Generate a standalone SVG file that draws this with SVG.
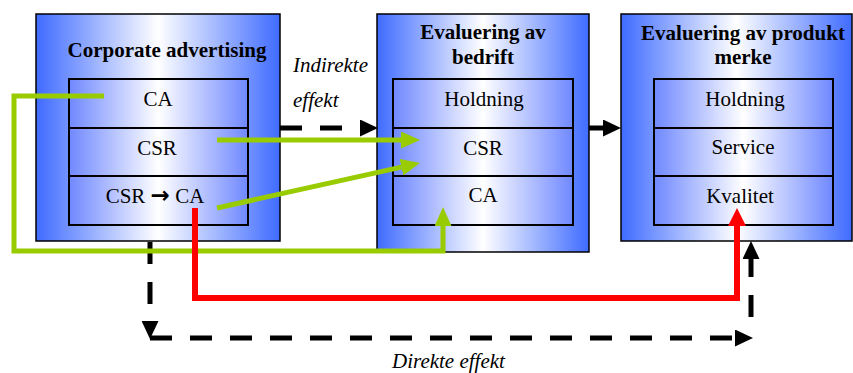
<svg xmlns="http://www.w3.org/2000/svg" width="853" height="373" viewBox="0 0 853 373">
  <defs>
    <linearGradient id="outerFill" x1="0" y1="0" x2="1" y2="0">
      <stop offset="0" stop-color="#3F6BFF"/>
      <stop offset="0.5" stop-color="#FFFFFF"/>
      <stop offset="1" stop-color="#3F6BFF"/>
    </linearGradient>
    <linearGradient id="innerFill" x1="0" y1="0" x2="1" y2="0">
      <stop offset="0" stop-color="#6F88FF"/>
      <stop offset="0.5" stop-color="#FFFFFF"/>
      <stop offset="1" stop-color="#6F88FF"/>
    </linearGradient>
    <marker id="headBlack" viewBox="0 0 18 17" refX="0" refY="8.5" markerWidth="18" markerHeight="17" markerUnits="userSpaceOnUse" orient="auto">
      <path d="M0,0 L18,8.5 L0,17 z" fill="#000"/>
    </marker>
    <marker id="headGreen" viewBox="0 0 19 17" refX="0" refY="8.5" markerWidth="19" markerHeight="17" markerUnits="userSpaceOnUse" orient="auto">
      <path d="M0,0 L19,8.5 L0,17 z" fill="#99CC00"/>
    </marker>
    <marker id="headRed" viewBox="0 0 18 18" refX="0" refY="9" markerWidth="18" markerHeight="18" markerUnits="userSpaceOnUse" orient="auto">
      <path d="M0,0 L18,9 L0,18 z" fill="#FF0000"/>
    </marker>
  </defs>
  <style>
    .outer { fill: url(#outerFill); stroke: #000; stroke-width: 1.5; }
    .row { fill: url(#innerFill); stroke: #000; stroke-width: 2; }
    .title { font-family: "Liberation Serif", "Times New Roman", serif; font-size: 21px; font-weight: bold; text-anchor: middle; fill: #000; }
    .item { font-family: "Liberation Serif", "Times New Roman", serif; font-size: 21px; text-anchor: middle; fill: #000; }
    .sym { font-family: "DejaVu Sans", sans-serif; font-weight: bold; font-size: 23px; }
    .note { font-family: "Liberation Serif", "Times New Roman", serif; font-size: 21px; font-style: italic; fill: #000; }
    .dash { fill: none; stroke: #000; stroke-width: 5; stroke-dasharray: 22 18; }
    .solid { fill: none; stroke: #000; stroke-width: 5; }
    .green { fill: none; stroke: #99CC00; stroke-width: 5; stroke-linejoin: miter; }
    .red { fill: none; stroke: #FF0000; stroke-width: 6; stroke-linejoin: miter; }
  </style>

  <!-- Corporate advertising -->
  <g id="corporate-advertising">
    <rect class="outer" x="36" y="14" width="244" height="227"/>
    <text class="title" x="167" y="57">Corporate advertising</text>
    <rect class="row" x="69" y="79" width="179" height="49"/>
    <rect class="row" x="69" y="128" width="179" height="48"/>
    <rect class="row" x="69" y="176" width="179" height="49"/>
    <text class="item" x="158" y="106">CA</text>
    <text class="item" x="157" y="155">CSR</text>
    <text class="item" x="155" y="203">CSR <tspan class="sym">→</tspan> CA</text>
  </g>

  <!-- Evaluering av bedrift -->
  <g id="evaluering-bedrift">
    <rect class="outer" x="377" y="14" width="212" height="238"/>
    <text class="title" x="483" y="39">Evaluering av</text>
    <text class="title" x="483" y="64">bedrift</text>
    <rect class="row" x="393" y="79" width="180" height="49"/>
    <rect class="row" x="393" y="128" width="180" height="48"/>
    <rect class="row" x="393" y="176" width="180" height="49"/>
    <text class="item" x="484" y="106">Holdning</text>
    <text class="item" x="483" y="155">CSR</text>
    <text class="item" x="483" y="202">CA</text>
  </g>

  <!-- Evaluering av produkt merke -->
  <g id="evaluering-produkt">
    <rect class="outer" x="621" y="14" width="231" height="227"/>
    <text class="title" x="743" y="40">Evaluering av produkt</text>
    <text class="title" x="743" y="64">merke</text>
    <rect class="row" x="654" y="79" width="179" height="49"/>
    <rect class="row" x="654" y="128" width="179" height="48"/>
    <rect class="row" x="654" y="176" width="179" height="49"/>
    <text class="item" x="745" y="106">Holdning</text>
    <text class="item" x="743" y="154">Service</text>
    <text class="item" x="740" y="203">Kvalitet</text>
  </g>

  <!-- connectors -->
  <g id="connectors">
    <!-- indirect effect -->
    <path class="dash" d="M280,128 H360" marker-end="url(#headBlack)"/>
    <path class="solid" d="M589,128 H603" marker-end="url(#headBlack)"/>
    <!-- direct effect -->
    <path class="dash" d="M150,242 V321" stroke-dasharray="21 17" marker-end="url(#headBlack)"/>
    <path class="dash" d="M150,338 H735" marker-end="url(#headBlack)"/>
    <path class="dash" d="M751,317 V259" stroke-dasharray="22 17" marker-end="url(#headBlack)"/>
    <!-- green paths -->
    <path class="green" d="M104,96 H14 V251 H443 V226" marker-end="url(#headGreen)"/>
    <path class="green" d="M217,140 H401" marker-end="url(#headGreen)"/>
    <path class="green" d="M217,208 L401.4,167.1" marker-end="url(#headGreen)"/>
    <!-- red path -->
    <path class="red" d="M195,208 V298 H737 V226" marker-end="url(#headRed)"/>
  </g>

  <text class="note" x="293" y="72">Indirekte</text>
  <text class="note" x="293" y="107">effekt</text>
  <text class="note" x="392" y="368">Direkte effekt</text>
</svg>
